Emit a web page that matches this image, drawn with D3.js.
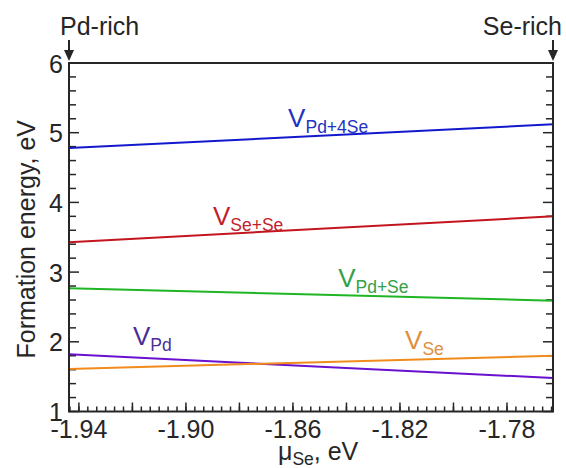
<!DOCTYPE html>
<html>
<head>
<meta charset="utf-8">
<script src="https://cdn.jsdelivr.net/npm/d3@7"></script>
<style>
    body { margin: 0; background: #fff; }
    svg { display: block; font-family: "Liberation Sans", Arial, sans-serif; }
</style>
</head>
<body>
<svg id="chart"></svg>
<script>
// Chemical potential range (Pd-rich -> Se-rich)
const muSe = [-1.9437, -1.7628];

// Formation energies at both ends of the range
const vPd4Se = [4.78, 5.12];
const vSeSe = [3.43, 3.80];
const vPdSe = [2.77, 2.59];
const vPd = [1.82, 1.48];
const vSe = [1.61, 1.80];

// Tick labels
const xLabelTicks = [-1.94, -1.90, -1.86, -1.82, -1.78];
const xMajorTicks = [-1.94, -1.92, -1.90, -1.88, -1.86, -1.84, -1.82, -1.80, -1.78];
const yLabelTicks = [1, 2, 3, 4, 5, 6];

const series = [
    { main: "V", sub: "Pd+4Se", values: vPd4Se, color: "#1218cc", text: "#2232c4", lx: -1.8618, ly: 5.08 },
    { main: "V", sub: "Se+Se", values: vSeSe, color: "#c3151d", text: "#c21e2c", lx: -1.8899, ly: 3.68 },
    { main: "V", sub: "Pd+Se", values: vPdSe, color: "#1fb524", text: "#34a147", lx: -1.8431, ly: 2.79 },
    { main: "V", sub: "Pd", values: vPd, color: "#6a10cf", text: "#4a2e98", lx: -1.9198, ly: 1.95 },
    { main: "V", sub: "Se", values: vSe, color: "#f18b1c", text: "#e08e3c", lx: -1.8181, ly: 1.90 }
];

const width = 566, height = 468;
const margin = { top: 63, right: 13, bottom: 56.5, left: 69 };
const textColor = "#262626";

const svg = d3.select("#chart")
    .attr("width", width)
    .attr("height", height);

const x = d3.scaleLinear().domain(muSe).range([margin.left, width - margin.right]);
const y = d3.scaleLinear().domain([1, 6]).range([height - margin.bottom, margin.top]);

// minor ticks
const xMinor = d3.range(Math.ceil(muSe[0] * 300), Math.floor(muSe[1] * 300) + 1).map(i => i / 300);
const yMinor = d3.range(5, 31).map(i => i / 5);

// bottom ticks (pointing inward)
const bottomY = y(1);
svg.append("g").selectAll("line")
    .data(xMinor)
    .enter().append("line")
    .attr("x1", d => x(d)).attr("x2", d => x(d))
    .attr("y1", bottomY).attr("y2", bottomY - 5)
    .attr("stroke", textColor).attr("stroke-width", 1.5);

svg.append("g").selectAll("line")
    .data(xMajorTicks)
    .enter().append("line")
    .attr("x1", d => x(d)).attr("x2", d => x(d))
    .attr("y1", bottomY).attr("y2", bottomY - 9)
    .attr("stroke", textColor).attr("stroke-width", 1.5);

// left and right ticks
[margin.left, width - margin.right].forEach((xPos, side) => {
    const dir = side === 0 ? 1 : -1;
    svg.append("g").selectAll("line")
        .data(yMinor)
        .enter().append("line")
        .attr("x1", xPos).attr("x2", d => xPos + dir * (Number.isInteger(Math.round(d * 1000) / 1000) ? 10 : 7))
        .attr("y1", d => y(d)).attr("y2", d => y(d))
        .attr("stroke", textColor).attr("stroke-width", 1.5);
});

// x tick labels
svg.append("g").selectAll("text")
    .data(xLabelTicks)
    .enter().append("text")
    .attr("x", d => x(d))
    .attr("y", bottomY + 26)
    .attr("text-anchor", "middle")
    .attr("font-size", 25)
    .attr("fill", textColor)
    .text(d => d3.format(".2f")(d).replace("−", "-"));

// y tick labels
svg.append("g").selectAll("text")
    .data(yLabelTicks)
    .enter().append("text")
    .attr("x", margin.left - 6)
    .attr("y", d => y(d))
    .attr("dy", "0.38em")
    .attr("text-anchor", "end")
    .attr("font-size", 25)
    .attr("fill", textColor)
    .text(d => d);

// lines
const line = d3.line()
    .x((d, i) => x(muSe[i]))
    .y(d => y(d));

series.forEach(s => {
    svg.append("path")
        .datum(s.values)
        .attr("d", line)
        .attr("fill", "none")
        .attr("stroke", s.color)
        .attr("stroke-width", 2);
});

// frame
svg.append("rect")
    .attr("x", margin.left)
    .attr("y", margin.top)
    .attr("width", width - margin.left - margin.right)
    .attr("height", height - margin.top - margin.bottom)
    .attr("fill", "none")
    .attr("stroke", textColor)
    .attr("stroke-width", 2);

// line labels
series.forEach(s => {
    const t = svg.append("text")
        .attr("x", x(s.lx))
        .attr("y", y(s.ly))
        .attr("font-size", 26)
        .attr("fill", s.text);
    t.append("tspan").text(s.main);
    t.append("tspan")
        .attr("font-size", 17.5)
        .attr("dy", 6)
        .text(s.sub);
});

// axis titles
svg.append("text")
    .attr("transform", `translate(35, ${(margin.top + height - margin.bottom) / 2 + 2}) rotate(-90)`)
    .attr("text-anchor", "middle")
    .attr("font-size", 25)
    .attr("fill", textColor)
    .text("Formation energy, eV");

const xTitle = svg.append("text")
    .attr("x", 278)
    .attr("y", 460)
    .attr("font-size", 25)
    .attr("fill", textColor);
xTitle.append("tspan").text("μ");
xTitle.append("tspan").attr("font-size", 17.5).attr("dy", 5).text("Se");
xTitle.append("tspan").attr("dy", -5).text(", eV");

// Pd-rich / Se-rich markers
const markers = [
    { label: "Pd-rich", at: muSe[0], anchor: "start", shift: -9 },
    { label: "Se-rich", at: muSe[1], anchor: "end", shift: 9 }
];

markers.forEach(m => {
    const xPos = x(m.at);
    svg.append("text")
        .attr("x", xPos + m.shift)
        .attr("y", 35)
        .attr("text-anchor", m.anchor)
        .attr("font-size", 25)
        .attr("fill", textColor)
        .text(m.label);
    svg.append("line")
        .attr("x1", xPos).attr("x2", xPos)
        .attr("y1", 40).attr("y2", 52)
        .attr("stroke", textColor).attr("stroke-width", 2);
    svg.append("path")
        .attr("d", `M${xPos - 5},50 L${xPos + 5},50 L${xPos},61 Z`)
        .attr("fill", textColor);
});
</script>
</body>
</html>
